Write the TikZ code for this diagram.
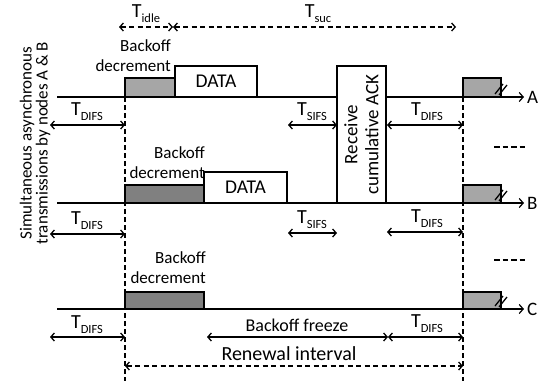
\documentclass[tikz,border=0pt]{standalone}
\usepackage{fontspec}
\setmainfont{Carlito}
\usetikzlibrary{arrows.meta,calc}
\definecolor{lgray}{HTML}{A6A6A6}
\definecolor{dgray}{HTML}{808080}
\newcommand{\Tsb}[1]{{\fontsize{20}{20}\selectfont T}\raisebox{-5pt}{\fontsize{12.5}{12.5}\selectfont #1}}
\tikzset{
  barb/.tip={Straight Barb[length=3.5pt,width=8pt]},
  txt/.style={font=\fontsize{17}{20}\selectfont, inner sep=0pt},
  axisline/.style={line width=1.2pt, -{Straight Barb[length=4pt,width=9pt]}},
  dimarrow/.style={line width=1.3pt, barb-barb},
  ddimarrow/.style={line width=1.3pt, barb-barb, dash pattern=on 5pt off 3.5pt},
  vdash/.style={line width=1.1pt, dash pattern=on 5pt off 3pt},
  box/.style={draw, line width=1.8pt, anchor=south west, inner sep=0pt, outer sep=0pt},
  hatch/.style={line width=1.3pt},
  dots/.style={line width=2pt, dash pattern=on 5.5pt off 3pt}
}
\begin{document}
\begin{tikzpicture}[x=1pt,y=-1pt]
\useasboundingbox (0,0) rectangle (551,381);

% axis coordinates
\coordinate (aS) at (57,97);  \coordinate (aE) at (524,97);
\coordinate (bS) at (57,203); \coordinate (bE) at (524,203);
\coordinate (cS) at (57,309); \coordinate (cE) at (524,309);
\draw[axisline] (aS) -- (aE);
\draw[axisline] (bS) -- (bE);
\draw[axisline] (cS) -- (cE);
\node[txt, anchor=west, font=\fontsize{19}{20}\selectfont] (labA) at (527,97) {A};
\node[txt, anchor=west, font=\fontsize{19}{20}\selectfont] (labB) at (527,203) {B};
\node[txt, anchor=west, font=\fontsize{19}{20}\selectfont] (labC) at (527,309) {C};

% vertical dashed lines
\coordinate (vL1) at (125,97); \coordinate (vL2) at (125,381);
\coordinate (vR1) at (463,97); \coordinate (vR2) at (463,381);
\draw[vdash] (vL1) -- (vL2);
\draw[vdash] (vR1) -- (vR2);

% row A boxes
\node[box, fill=lgray, minimum width=50pt, minimum height=19pt] (bA) at (125,97) {};
\node[box, fill=white, minimum width=82pt, minimum height=31pt, txt, font=\fontsize{19.5}{20}\selectfont] (dA) at (175,97) {DATA};
\node[box, fill=white, minimum width=49pt, minimum height=137pt] (ack) at (337,203) {};
\node[txt, rotate=90, align=center, font=\fontsize{19}{21}\selectfont] (ackt) at (ack.center) {Receive\\cumulative ACK};
\node[box, fill=lgray, minimum width=38pt, minimum height=19pt] (sA) at (463,97) {};
% row B boxes
\node[box, fill=dgray, minimum width=79pt, minimum height=18pt] (bB) at (125,203) {};
\node[box, fill=white, minimum width=83pt, minimum height=31pt, txt, font=\fontsize{19.5}{20}\selectfont] (dB) at (204,203) {DATA};
\node[box, fill=lgray, minimum width=38pt, minimum height=18pt] (sB) at (463,203) {};
% row C boxes
\node[box, fill=dgray, minimum width=79pt, minimum height=17pt] (bC) at (125,309) {};
\node[box, fill=lgray, minimum width=38pt, minimum height=17pt] (sC) at (463,309) {};

% hatch marks
\foreach \b in {sA,sB,sC}{
  \draw[hatch] ($(\b.south east)+(-6,-3)$) -- ($(\b.south east)+(2,-13)$);
  \draw[hatch] ($(\b.south east)+(-2,-2)$) -- ($(\b.south east)+(6,-12)$);
}

% backoff labels
\node[txt, align=right, anchor=east] (boA) at (171,56) {Backoff\\decrement};
\node[txt, align=right, anchor=east] (boB) at (205,163) {Backoff\\decrement};
\node[txt, align=right, anchor=east] (boC) at (206,268) {Backoff\\decrement};

% T_idle / T_suc
\coordinate (i1) at (119,27); \coordinate (i2) at (173,27); \coordinate (s2) at (456,27);
\draw[ddimarrow] (i1) -- (i2);
\draw[ddimarrow] (i2) -- (s2);
\node[txt] (tidle) at (146,14) {\Tsb{idle}};
\node[txt] (tsuc) at (318,14) {\Tsb{suc}};

% row A dims
\coordinate (a1) at (50,125); \coordinate (a2) at (125,125);
\coordinate (a3) at (288,125); \coordinate (a4) at (337,125);
\coordinate (a5) at (387,125); \coordinate (a6) at (463,125);
\draw[dimarrow] (a1) -- (a2);
\draw[dimarrow] (a3) -- (a4);
\draw[dimarrow] (a5) -- (a6);
\node[txt] (tdA1) at (87,112) {\Tsb{DIFS}};
\node[txt] (tsA) at (312,112) {\Tsb{SIFS}};
\node[txt] (tdA2) at (427,112) {\Tsb{DIFS}};
\coordinate (dA1) at (494,147); \coordinate (dA2) at (527,147);
\draw[dots] (dA1) -- (dA2);

% row B dims
\coordinate (b1) at (50,234); \coordinate (b2) at (125,234);
\coordinate (b3) at (288,233); \coordinate (b4) at (337,233);
\coordinate (b5) at (387,232); \coordinate (b6) at (463,232);
\draw[dimarrow] (b1) -- (b2);
\draw[dimarrow] (b3) -- (b4);
\draw[dimarrow] (b5) -- (b6);
\node[txt] (tdB1) at (87,221) {\Tsb{DIFS}};
\node[txt] (tsB) at (312,220) {\Tsb{SIFS}};
\node[txt] (tdB2) at (427,219) {\Tsb{DIFS}};
\coordinate (dB1) at (494,260); \coordinate (dB2) at (527,260);
\draw[dots] (dB1) -- (dB2);

% row C dims
\coordinate (c1) at (50,337); \coordinate (c2) at (125,337);
\coordinate (c3) at (207,337); \coordinate (c4) at (388,337);
\coordinate (c5) at (463,337);
\draw[dimarrow] (c1) -- (c2);
\draw[dimarrow] (c3) -- (c4);
\draw[dimarrow] (c4) -- (c5);
\node[txt] (tdC1) at (87,325) {\Tsb{DIFS}};
\node[txt, font=\fontsize{18}{20}\selectfont] (bfz) at (297,325) {Backoff freeze};
\node[txt] (tdC2) at (427,324) {\Tsb{DIFS}};

% renewal
\coordinate (r1) at (125,366); \coordinate (r2) at (463,366);
\draw[ddimarrow] (r1) -- (r2);
\node[txt, font=\fontsize{20}{20}\selectfont] (ren) at (289,354) {Renewal interval};

% side label
\node[txt, rotate=90, align=center, font=\fontsize{17}{16}\selectfont] (side) at (35,143) {Simultaneous asynchronous\\transmissions by nodes A \& B};
\end{tikzpicture}
\end{document}
